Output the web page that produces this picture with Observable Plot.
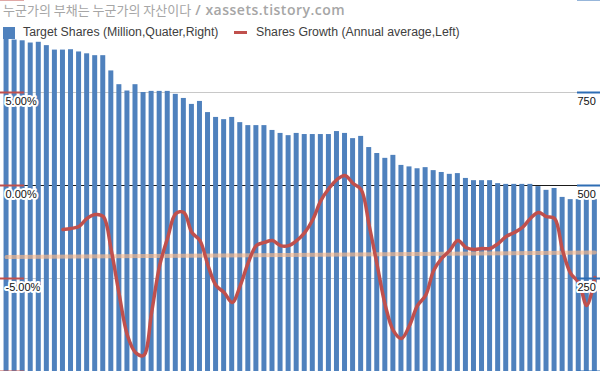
<!DOCTYPE html>
<html><head><meta charset="utf-8">
<script src="https://cdn.jsdelivr.net/npm/d3@7"></script>
<script src="https://cdn.jsdelivr.net/npm/@observablehq/plot@0.6"></script>
<style>
html,body{margin:0;padding:0;background:#fff}
#wrap{position:relative;width:600px;height:371px;overflow:hidden}
#wrap svg{display:block;position:absolute;left:0;top:0}
.ov{position:absolute;white-space:nowrap;line-height:1}
#title{left:3px;top:3px;font-family:"Noto Sans CJK KR",sans-serif;font-size:13px;color:#a6a6a6}
#title .lat{font-family:"Open Sans",sans-serif;font-weight:600;font-size:14px;letter-spacing:0.5px}
.lg{font-family:"Liberation Sans",Arial,sans-serif;font-size:12.3px;color:#404040}
</style>
</head><body>
<div id="wrap"></div>
<script>
// ---- data ----
const titleKo = "누군가의 부채는 누군가의 자산이다";
const titleLat = " / xassets.tistory.com";
const sharesLabel = "Target Shares (Million,Quater,Right)";
const growthLabel = "Shares Growth (Annual average,Left)";

// Target shares (million), quarterly, right axis
const shares = [905, 891, 889, 883, 885, 876, 864, 864, 865, 859,
  854, 849, 849, 808, 771, 754, 771, 750, 753, 753,
  753, 745, 734, 718, 726, 696, 683, 677, 683, 669,
  661, 661, 661, 648, 640, 634, 640, 637, 637, 637,
  637, 645, 640, 626, 632, 602, 586, 573, 581, 554,
  550, 545, 548, 540, 535, 530, 532, 519, 513, 513,
  513, 505, 503, 503, 503, 503, 497, 487, 492, 468,
  462, 462, 462, 462];

// Shares growth (annual average, %), left axis, starting at quarter index 7
const growthStart = 7;
const growth = [-2.37, -2.31, -2.20, -1.77, -1.56, -1.67, -3.49, -5.91, -8.06, -8.98,
  -9.14, -6.83, -4.30, -2.80, -1.51, -1.45, -2.53, -2.96, -4.30, -5.38,
  -5.75, -6.29, -5.38, -4.14, -3.23, -3.06, -2.96, -3.23, -3.23, -2.96,
  -2.53, -1.83, -0.81, -0.16, 0.32, 0.54, 0.11, -0.22, -2.15, -4.30,
  -6.45, -7.80, -8.23, -7.53, -6.45, -5.91, -4.57, -3.92, -3.49, -2.96,
  -3.33, -3.44, -3.39, -3.39, -3.12, -2.74, -2.53, -2.26, -1.77, -1.45,
  -1.67, -1.77, -3.49, -4.73, -5.22, -6.45, -4.95];

// linear trend of growth (%), at first and last quarter
const trendEnds = [-3.85, -3.6];

const leftTicks = [10, 5, 0, -5, -10];
const leftTickLabels = ["", "5.00%", "0.00%", "-5.00%", ""];
const rightTicks = [1000, 750, 500, 250, 0];
const rightTickLabels = ["", "750", "500", "250", ""];

// ---- build tables ----
const toRight = p => (p + 10) * 50; // left % axis (-10..10) onto right axis (0..1000)
const n = shares.length;
const barData = shares.map((v, k) => ({k, v}));
const growthData = growth.map((g, i) => ({k: growthStart + i, r: toRight(g)}));
const trendData = [{k: 0, r: toRight(trendEnds[0])}, {k: n - 1, r: toRight(trendEnds[1])}];
const leftData = leftTicks.map((t, i) => ({r: toRight(t), label: leftTickLabels[i]}));
const rightData = rightTicks.map((t, i) => ({r: t, label: rightTickLabels[i]}));

const xDomain = [-0.75, n - 0.3];
const xs = d3.scaleLinear(xDomain, [0, 600]);
const half = 0.31;

const chart = Plot.plot({
  width: 600, height: 371,
  marginTop: 0, marginRight: 0, marginBottom: 0, marginLeft: 0,
  style: {background: "transparent", overflow: "visible"},
  x: {type: "linear", domain: xDomain, range: [0, 600], axis: null},
  y: {domain: [0, 1000], range: [371, -1], axis: null},
  marks: [
    Plot.ruleY(rightData.filter(d => d.r !== 500), {y: "r", stroke: "#c8c8c8", strokeWidth: 1}),
    Plot.ruleY(rightData.filter(d => d.r === 500), {y: "r", stroke: "#1a1a1a", strokeWidth: 1}),
    Plot.rectY(barData, {x1: d => d.k - half, x2: d => d.k + half, y: "v", fill: "#4f81bd"}),
    Plot.line(trendData, {x: "k", y: "r", stroke: "#f9b98a", strokeOpacity: 0.65, strokeWidth: 4}),
    Plot.line(growthData, {x: "k", y: "r", stroke: "#c0504d", strokeWidth: 3.5, curve: "catmull-rom", strokeLinejoin: "round"}),
    Plot.ruleY(leftData, {y: "r", x1: xs.invert(0), x2: xs.invert(24), stroke: "#c0504d", strokeWidth: 2}),
    Plot.ruleY(rightData, {y: "r", x1: xs.invert(577), x2: xs.invert(600), stroke: "#2e6db4", strokeWidth: 2}),
    Plot.text(leftData.filter(d => d.label), {y: "r", text: "label", frameAnchor: "left", dx: 5, dy: 9, textAnchor: "start",
      fill: "#111", stroke: "white", strokeWidth: 4, fontSize: 11, fontFamily: "Liberation Sans, Arial, sans-serif"}),
    Plot.text(rightData.filter(d => d.label), {y: "r", text: "label", frameAnchor: "right", dx: -23, dy: 9, textAnchor: "start",
      fill: "#111", stroke: "white", strokeWidth: 4, fontSize: 11, fontFamily: "Liberation Sans, Arial, sans-serif"})
  ]
});

const wrap = document.getElementById("wrap");
wrap.appendChild(chart);

const t = document.createElement("div");
t.id = "title"; t.className = "ov";
t.innerHTML = `<span>${titleKo}</span><span class="lat">${titleLat}</span>`;
wrap.appendChild(t);

const sw1 = document.createElement("div");
sw1.className = "ov";
Object.assign(sw1.style, {left: "3px", top: "27px", width: "12px", height: "12px", background: "#4f81bd"});
wrap.appendChild(sw1);
const l1 = document.createElement("div");
l1.className = "ov lg"; l1.textContent = sharesLabel;
Object.assign(l1.style, {left: "23px", top: "26px"});
wrap.appendChild(l1);

const sw2 = document.createElement("div");
sw2.className = "ov";
Object.assign(sw2.style, {left: "234px", top: "31px", width: "13px", height: "3px", background: "#c0504d"});
wrap.appendChild(sw2);
const l2 = document.createElement("div");
l2.className = "ov lg"; l2.textContent = growthLabel;
Object.assign(l2.style, {left: "256px", top: "26px"});
wrap.appendChild(l2);
</script>
</body></html>
